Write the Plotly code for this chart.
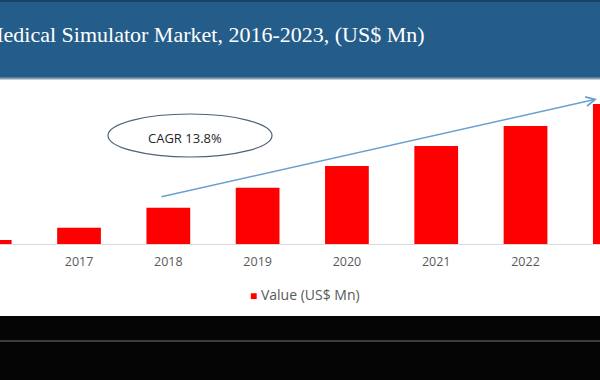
import plotly.graph_objects as go

# ---- data ----
years = ["2016", "2017", "2018", "2019", "2020", "2021", "2022", "2023"]
values = [40, 163, 363, 563, 780, 980, 1180, 1400]  # US$ Mn
series_name = "Value (US$ Mn)"
title_text = "Medical Simulator Market, 2016-2023, (US$ Mn)"
cagr_text = "CAGR 13.8%"

W, H = 600, 380


def py(px):
    """pixel y (from top) -> paper y"""
    return 1 - px / H


def pxx(px):
    return px / W


fig = go.Figure()
fig.add_trace(go.Bar(
    x=years, y=values, name=series_name,
    marker=dict(color="#ff0000", line=dict(width=0)),
    showlegend=False,
))
# legend entry: compact red square glyph right before the label
fig.add_trace(go.Scatter(
    x=[None], y=[None], mode="markers",
    name="<span style='color:#ff0000;font-size:12px'>■</span> " + series_name,
    marker=dict(symbol="square", size=1, color="rgba(0,0,0,0)"),
    showlegend=True,
))

shapes = [
    # header band
    dict(type="rect", xref="paper", yref="paper", x0=0, x1=1, y0=py(78), y1=1,
         fillcolor="#245d8a", line=dict(width=0), layer="below"),
    dict(type="line", xref="paper", yref="paper", x0=0, x1=1, y0=py(1), y1=py(1),
         line=dict(color="#1b4266", width=2)),
    dict(type="line", xref="paper", yref="paper", x0=0, x1=1, y0=py(78.5), y1=py(78.5),
         line=dict(color="#8c9cab", width=2)),
    # bottom black band
    dict(type="rect", xref="paper", yref="paper", x0=0, x1=1, y0=0, y1=py(316),
         fillcolor="#050505", line=dict(width=0), layer="below"),
    dict(type="line", xref="paper", yref="paper", x0=0, x1=1, y0=py(341), y1=py(341),
         line=dict(color="#3c3c3c", width=2)),
    # CAGR ellipse
    dict(type="circle", xref="paper", yref="paper",
         x0=pxx(108), x1=pxx(272), y0=py(157), y1=py(114),
         line=dict(color="#4f6079", width=1.2), fillcolor="rgba(0,0,0,0)"),
]

annotations = [
    dict(text=title_text, xref="paper", yref="paper", x=pxx(427), y=py(35),
         xanchor="right", yanchor="middle", showarrow=False,
         font=dict(family="Liberation Serif", size=22, color="#ffffff")),
    dict(text=cagr_text, xref="paper", yref="paper", x=pxx(185), y=py(138),
         xanchor="center", yanchor="middle", showarrow=False,
         font=dict(family="Open Sans", size=13, color="#262626")),
    # trend arrow
    dict(text="", xref="paper", yref="paper", x=pxx(597), y=py(99),
         ax=160 - 597, ay=197 - 99, axref="pixel", ayref="pixel",
         showarrow=True, arrowhead=5, arrowsize=1.2, arrowwidth=1.5,
         arrowcolor="#6b9fcf"),
]

fig.update_layout(
    width=W, height=H,
    margin=dict(l=0, r=0, t=0, b=0),
    paper_bgcolor="#ffffff", plot_bgcolor="#ffffff",
    bargap=0.51,
    showlegend=True,
    legend=dict(orientation="h", x=pxx(210), xanchor="left", y=py(295), yanchor="middle",
                font=dict(family="Open Sans", size=14, color="#595959"),
                itemwidth=30, bgcolor="rgba(0,0,0,0)", borderwidth=0),
    xaxis=dict(type="category", range=[0.115, 6.834], showline=True, linecolor="#d9d9d9",
               linewidth=1, ticks="", showgrid=False, zeroline=False,
               ticklabelstandoff=6,
               tickfont=dict(family="Open Sans", size=12.5, color="#595959"),
               domain=[0, 1], anchor="y"),
    yaxis=dict(visible=False, range=[0, 1640], domain=[py(244), py(80)],
               showgrid=False, zeroline=False),
    shapes=shapes,
    annotations=annotations,
)

fig.write_html(
    "out.html",
    config={"displayModeBar": False},
    post_script="document.body.style.margin='0px';document.body.style.overflow='hidden';",
)
